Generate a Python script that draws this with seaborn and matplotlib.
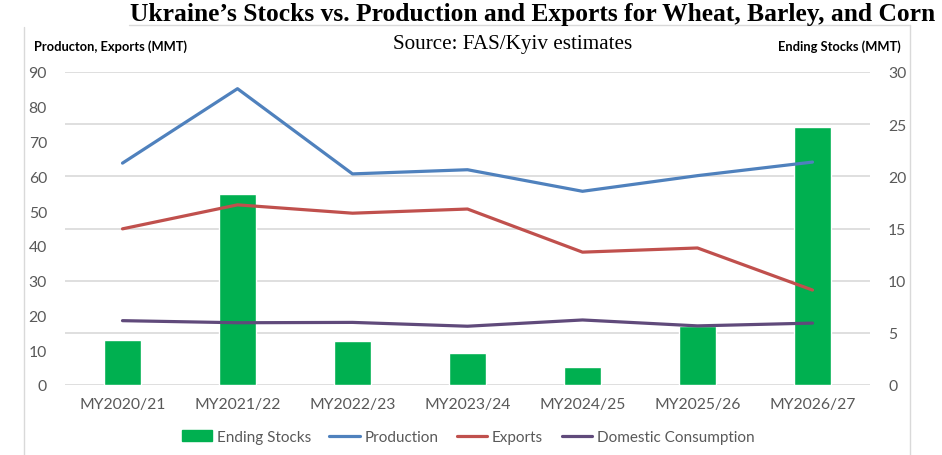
import matplotlib
matplotlib.use("Agg")
import matplotlib.pyplot as plt
from matplotlib.patches import Patch
from matplotlib.lines import Line2D
import seaborn as sns
import pandas as pd

years = ["MY2020/21", "MY2021/22", "MY2022/23", "MY2023/24", "MY2024/25", "MY2025/26", "MY2026/27"]
ending_stocks = [4.3, 18.3, 4.2, 3.1, 1.7, 5.7, 24.7]
production = [63.8, 85.2, 60.7, 61.9, 55.7, 60.2, 64.1]
exports = [44.9, 51.8, 49.4, 50.6, 38.2, 39.4, 27.3]
domestic = [18.5, 17.9, 18.0, 16.9, 18.7, 17.0, 17.8]

left_ticks = list(range(0, 91, 10))
right_ticks = list(range(0, 31, 5))

GREEN = "#00B050"
BLUE = "#4F81BD"
RED = "#C0504D"
PURPLE = "#604A7B"
GRID = "#D9D9D9"
TICKC = "#595959"

sns.set_theme(style="white")
plt.rcParams["font.family"] = ["Lato", "DejaVu Sans"]

W, H = 942, 456
fig = plt.figure(figsize=(W / 100, H / 100), dpi=100)

# chart frame lines (pixel coords -> figure fraction)
def px_line(xa, ya, xb, yb):
    fig.add_artist(Line2D([xa / W, xb / W], [1 - ya / H, 1 - yb / H],
                          transform=fig.transFigure, color=GRID, linewidth=1.0))

px_line(24, 28, 24, 460)
px_line(129, 26, 910, 26)
px_line(910, 26, 910, 460)

x0, x1 = 65 / W, 870 / W
y0, y1 = 1 - 386 / H, 1 - 73 / H
ax_r = fig.add_axes([x0, y0, x1 - x0, y1 - y0])
ax_l = ax_r.twinx()
ax_r.yaxis.tick_right()
ax_l.yaxis.tick_left()
ax_r.set_zorder(1)
ax_l.set_zorder(2)
ax_l.patch.set_visible(False)

df_stock = pd.DataFrame({"year": years, "stocks": ending_stocks})
sns.barplot(data=df_stock, x="year", y="stocks", ax=ax_r, color=GREEN,
            width=0.32, saturation=1, zorder=2)
ax_r.set_ylim(0, 30)
ax_r.set_yticks(right_ticks)
ax_r.yaxis.grid(True, color=GRID, linewidth=1.2, zorder=0)
ax_r.set_axisbelow(True)

df_lines = pd.DataFrame({
    "year": years * 3,
    "value": production + exports + domestic,
    "series": ["Production"] * 7 + ["Exports"] * 7 + ["Domestic Consumption"] * 7,
})
sns.lineplot(data=df_lines, x="year", y="value", hue="series", ax=ax_l,
             palette={"Production": BLUE, "Exports": RED, "Domestic Consumption": PURPLE},
             linewidth=2.3, sort=False, legend=False)
ax_l.set_ylim(0, 90)
ax_l.set_yticks(left_ticks)
ax_l.set_xlim(-0.5, 6.5)
ax_r.set_xlim(-0.5, 6.5)

for a in (ax_l, ax_r):
    for s in a.spines.values():
        s.set_visible(False)
    a.set_xlabel("")
    a.set_ylabel("")
    a.tick_params(axis="both", length=0, labelsize=11.3, labelcolor=TICKC)
ax_l.tick_params(axis="y", pad=13)
ax_r.tick_params(axis="y", pad=13)
ax_r.tick_params(axis="x", pad=9)
ax_l.tick_params(axis="x", labelbottom=False)

fig.text(130 / W, 1 - 21 / H, "Ukraine\u2019s Stocks vs. Production and Exports for Wheat, Barley, and Corn",
         ha="left", va="baseline", fontsize=18.4, fontweight="bold",
         family=["Liberation Serif", "DejaVu Serif"], color="black")
fig.text(513 / W, 1 - 45 / H, "Source: FAS/Kyiv estimates", ha="center", va="center",
         fontsize=15.2, family=["Liberation Serif", "DejaVu Serif"], color="black")
fig.text(34 / W, 1 - 47 / H, "Producton, Exports (MMT)", ha="left", va="center",
         fontsize=9.3, fontweight="bold", color="black")
fig.text(901 / W, 1 - 47 / H, "Ending Stocks (MMT)", ha="right", va="center",
         fontsize=9.3, fontweight="bold", color="black")

handles = [
    Patch(facecolor=GREEN, edgecolor=GREEN, label="Ending Stocks"),
    Line2D([0], [0], color=BLUE, lw=2.3, label="Production"),
    Line2D([0], [0], color=RED, lw=2.3, label="Exports"),
    Line2D([0], [0], color=PURPLE, lw=2.3, label="Domestic Consumption"),
]
leg = fig.legend(handles=handles, loc="center", bbox_to_anchor=(468 / W, 1 - 438 / H),
                 ncol=4, frameon=False, fontsize=11, handlelength=2.0,
                 handletextpad=0.3, columnspacing=1.2)
for t in leg.get_texts():
    t.set_color(TICKC)

fig.savefig("out.png", dpi=100)
